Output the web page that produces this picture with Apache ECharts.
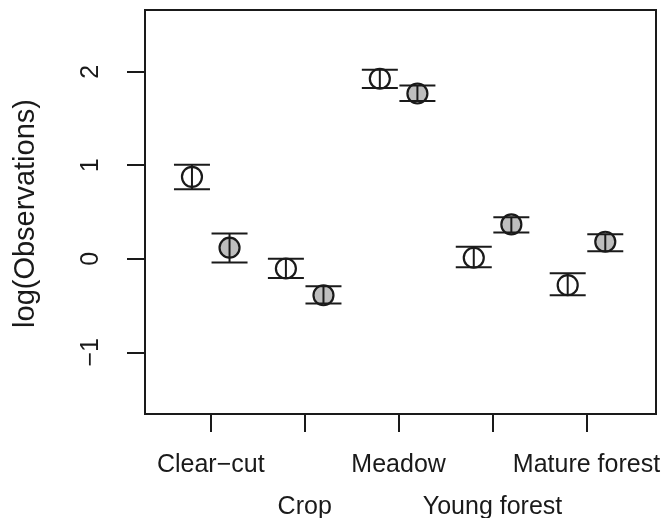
<!DOCTYPE html>
<html>
<head>
<meta charset="utf-8">
<script src="https://cdn.jsdelivr.net/npm/echarts@6/dist/echarts.min.js"></script>
<style>html,body{margin:0;padding:0;background:#fff}#c{width:665px;height:518px}</style>
</head>
<body>
<div id="c"></div>
<script>
var categories = ['Clear\u2212cut', 'Crop', 'Meadow', 'Young forest', 'Mature forest'];
var xTicks = [1, 2, 3, 4, 5];
var xLabelsRow1 = [1, 3, 5];
var xLabelsRow2 = [2, 4];
var yTicks = [-1, 0, 1, 2];
var openMean = [0.876, -0.104, 1.925, 0.011, -0.282];
var openLo   = [0.744, -0.207, 1.825, -0.090, -0.389];
var openHi   = [1.005, 0.000, 2.020, 0.128, -0.154];
var filledMean = [0.118, -0.390, 1.767, 0.367, 0.182];
var filledLo   = [-0.040, -0.479, 1.686, 0.280, 0.081];
var filledHi   = [0.270, -0.293, 1.853, 0.444, 0.263];
var offset = 0.2;

var FONT = '"Liberation Sans", Arial, Helvetica, sans-serif';
var INK = '#1a1a1a';

function pts(mean, d) { return mean.map(function (v, i) { return [xTicks[i] + d, v]; }); }
function bars(lo, hi, d) { return lo.map(function (v, i) { return [xTicks[i] + d, v, hi[i]]; }); }
function catLabel(v) { var i = xTicks.indexOf(v); return i < 0 ? '' : categories[i]; }

function renderBar(params, api) {
  var x = api.value(0);
  var a = api.coord([x, api.value(1)]);
  var b = api.coord([x, api.value(2)]);
  var h = 18;
  var st = { stroke: INK, lineWidth: 2 };
  return {
    type: 'group',
    children: [
      { type: 'line', shape: { x1: a[0], y1: a[1], x2: b[0], y2: b[1] }, style: st },
      { type: 'line', shape: { x1: a[0] - h, y1: a[1], x2: a[0] + h, y2: a[1] }, style: st },
      { type: 'line', shape: { x1: b[0] - h, y1: b[1], x2: b[0] + h, y2: b[1] }, style: st }
    ]
  };
}

var XMIN = 0.3, XMAX = 5.74;

var chart = echarts.init(document.getElementById('c'), null, { renderer: 'canvas' });
chart.setOption({
  animation: false,
  backgroundColor: '#fff',
  grid: { left: 145, right: 9, top: 10, bottom: 104, show: true, borderColor: INK, borderWidth: 2, backgroundColor: 'transparent', containLabel: false, outerBoundsMode: 'none' },
  xAxis: [{
    type: 'value', min: XMIN, max: XMAX, position: 'bottom', offset: 0,
    axisLine: { show: false, onZero: false },
    splitLine: { show: false },
    axisTick: { show: true, length: 18, customValues: xTicks, lineStyle: { color: INK, width: 2 } },
    axisLabel: {
      customValues: xLabelsRow1,
      showMinLabel: true, showMaxLabel: true, hideOverlap: false,
      margin: 30,
      fontFamily: FONT, fontSize: 25, color: INK, lineHeight: 42,
      formatter: catLabel
    }
  }, {
    type: 'value', min: XMIN, max: XMAX, position: 'bottom', offset: 0,
    axisLine: { show: false, onZero: false },
    splitLine: { show: false },
    axisTick: { show: false },
    axisLabel: {
      customValues: xLabelsRow2,
      showMinLabel: true, showMaxLabel: true, hideOverlap: false,
      margin: 72,
      fontFamily: FONT, fontSize: 25, color: INK, lineHeight: 42,
      formatter: catLabel
    }
  }],
  yAxis: {
    type: 'value', min: -1.66, max: 2.66,
    name: 'log(Observations)', nameLocation: 'middle', nameRotate: 90, nameGap: 105,
    nameTextStyle: { fontFamily: FONT, fontSize: 29, color: INK, padding: [0, 3, 0, 0] },
    axisLine: { show: false, onZero: false },
    splitLine: { show: false },
    axisTick: { show: true, length: 18, customValues: yTicks, lineStyle: { color: INK, width: 2 } },
    axisLabel: {
      customValues: yTicks,
      rotate: 90, margin: 41,
      fontFamily: FONT, fontSize: 25, color: INK,
      formatter: function (v) { return String(v).replace('-', '\u2212'); }
    }
  },
  series: [
    { type: 'scatter', data: pts(openMean, -offset), symbol: 'circle', symbolSize: 20,
      itemStyle: { color: '#ffffff', borderColor: INK, borderWidth: 2.2, opacity: 1 }, z: 2 },
    { type: 'scatter', data: pts(filledMean, offset), symbol: 'circle', symbolSize: 20,
      itemStyle: { color: '#bebebe', borderColor: INK, borderWidth: 2.2, opacity: 1 }, z: 2 },
    { type: 'custom', data: bars(openLo, openHi, -offset), renderItem: renderBar, z: 3 },
    { type: 'custom', data: bars(filledLo, filledHi, offset), renderItem: renderBar, z: 3 }
  ]
});
</script>
</body>
</html>
